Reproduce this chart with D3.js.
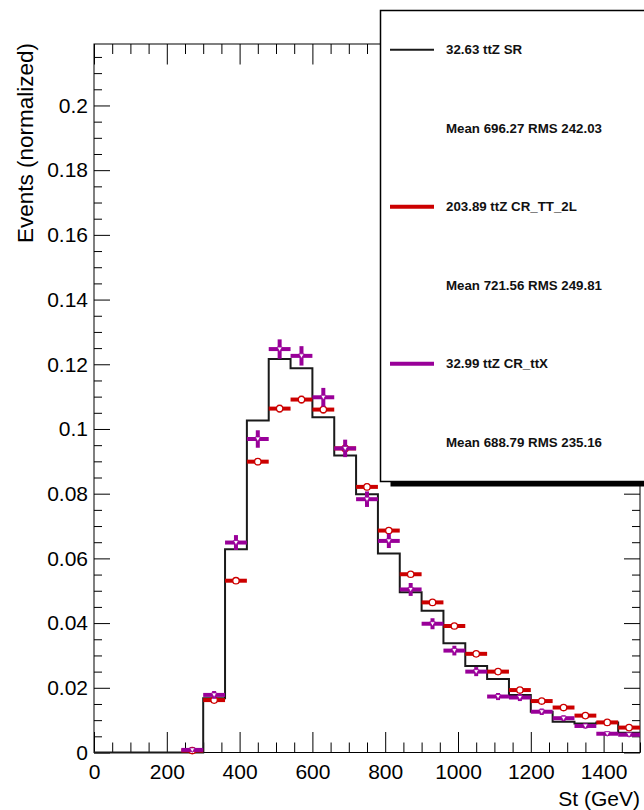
<!DOCTYPE html>
<html><head><meta charset="utf-8">
<script src="https://cdn.jsdelivr.net/npm/d3@7/dist/d3.min.js"></script>
<style>body{margin:0;background:#fff;overflow:hidden}svg{display:block}</style>
</head><body>
<script>
// ---- data ----
const binEdges = [0,60,120,180,240,300,360,420,480,540,600,660,720,780,840,900,960,1020,1080,1140,1200,1260,1320,1380,1440,1500];
const srValues = [0,0,0,0,0,0.0168,0.0628,0.1026,0.1216,0.1188,0.1036,0.0918,0.0798,0.0615,0.0495,0.0438,0.0338,0.0267,0.0227,0.0178,0.0126,0.0095,0.0090,0.0093,0.0061];
const ttValues = [0,0,0,0,0.0006,0.0162,0.0531,0.0899,0.1063,0.1091,0.1060,0.0940,0.0821,0.0686,0.0551,0.0464,0.0391,0.0305,0.0250,0.0193,0.0159,0.0139,0.0114,0.0093,0.0077];
const ttErrors = [0,0,0,0,0.0001,0.0005,0.0009,0.0011,0.0012,0.0012,0.0012,0.0011,0.0010,0.0009,0.0008,0.0007,0.0007,0.0006,0.0005,0.0005,0.0004,0.0004,0.0004,0.0003,0.0003];
const ttxValues = [0,0,0,0,0.0008,0.0178,0.0649,0.0969,0.1247,0.1226,0.1098,0.0940,0.0783,0.0654,0.0504,0.0398,0.0315,0.0250,0.0173,0.0170,0.0126,0.0106,0.0082,0.0058,0.0055];
const ttxErrors = [0,0,0,0,0.0003,0.0012,0.0023,0.0027,0.0030,0.0030,0.0029,0.0027,0.0024,0.0022,0.0020,0.0017,0.0015,0.0014,0.0011,0.0011,0.0010,0.0009,0.0008,0.0007,0.0006];
const xTicks = [0,200,400,600,800,1000,1200,1400];
const yTicks = [0,0.02,0.04,0.06,0.08,0.1,0.12,0.14,0.16,0.18,0.2];
const legendLabels = ["32.63 ttZ SR","Mean 696.27 RMS 242.03","203.89 ttZ CR_TT_2L","Mean 721.56 RMS 249.81","32.99 ttZ CR_ttX","Mean 688.79 RMS 235.16"];
const xTitle = "St (GeV)";
const yTitle = "Events (normalized)";

// ---- layout ----
const W = 644, H = 810;
const L = 94, R = 640, T = 44, B = 752.5;
const FONT = "'Liberation Sans', Arial, Helvetica, sans-serif";
const RED = "#cc0000", PURPLE = "#990099";

const svg = d3.select("body").append("svg").attr("width", W).attr("height", H);
const x = d3.scaleLinear().domain([0, 1500]).range([L, R]);
const y = d3.scaleLinear().domain([0, 0.219]).range([B, T]);

const xMinor = d3.range(0, 1500.1, 50).filter(v => xTicks.indexOf(v) < 0);
const yMinor = d3.range(0, 0.2191, 0.005).map(v => +v.toFixed(3)).filter(v => !yTicks.some(t => Math.abs(t - v) < 1e-9));

function styleAxis(g) {
  g.select(".domain").remove();
  g.selectAll(".tick line").attr("stroke", "#000").attr("stroke-width", 1);
  g.selectAll("text").attr("font-family", FONT).attr("font-size", 21).attr("fill", "#000");
}
// bottom axis (labels)
svg.append("g").attr("transform", `translate(0,${B})`)
  .call(d3.axisBottom(x).tickValues(xTicks).tickSize(-20.5).tickPadding(12).tickFormat(d3.format("d")))
  .call(styleAxis);
svg.append("g").attr("transform", `translate(0,${B})`)
  .call(d3.axisBottom(x).tickValues(xMinor).tickSize(-10).tickFormat(""))
  .call(styleAxis);
// top axis
svg.append("g").attr("transform", `translate(0,${T})`)
  .call(d3.axisTop(x).tickValues(xTicks).tickSize(-20.5).tickFormat(""))
  .call(styleAxis);
svg.append("g").attr("transform", `translate(0,${T})`)
  .call(d3.axisTop(x).tickValues(xMinor).tickSize(-10).tickFormat(""))
  .call(styleAxis);
// left axis
svg.append("g").attr("transform", `translate(${L},0)`)
  .call(d3.axisLeft(y).tickValues(yTicks).tickSize(-16).tickPadding(6).tickFormat(d3.format("~g")))
  .call(styleAxis);
svg.append("g").attr("transform", `translate(${L},0)`)
  .call(d3.axisLeft(y).tickValues(yMinor).tickSize(-8).tickFormat(""))
  .call(styleAxis);
// right axis
svg.append("g").attr("transform", `translate(${R},0)`)
  .call(d3.axisRight(y).tickValues(yTicks).tickSize(-16).tickFormat(""))
  .call(styleAxis);
svg.append("g").attr("transform", `translate(${R},0)`)
  .call(d3.axisRight(y).tickValues(yMinor).tickSize(-8).tickFormat(""))
  .call(styleAxis);

// frame
svg.append("rect").attr("x", L).attr("y", T).attr("width", R - L).attr("height", B - T)
  .attr("fill", "none").attr("stroke", "#000").attr("stroke-width", 1);

// SR histogram (step line)
const stepPts = srValues.map((v, i) => [binEdges[i], v]);
stepPts.push([binEdges[binEdges.length - 1], srValues[srValues.length - 1]]);
svg.append("path")
  .attr("d", d3.line().x(d => x(d[0])).y(d => y(d[1])).curve(d3.curveStepAfter)(stepPts))
  .attr("fill", "none").attr("stroke", "#1a1a1a").attr("stroke-width", 2);

function drawPoints(vals, errs, color, marker) {
  const g = svg.append("g");
  vals.forEach((v, i) => {
    if (v <= 0) return;
    const x0 = x(binEdges[i]), x1 = x(binEdges[i + 1]), xc = (x0 + x1) / 2;
    const yc = y(v);
    g.append("line").attr("x1", x0).attr("x2", x1).attr("y1", yc).attr("y2", yc)
      .attr("stroke", color).attr("stroke-width", 4);
    g.append("line").attr("x1", xc).attr("x2", xc).attr("y1", y(v - errs[i])).attr("y2", y(v + errs[i]))
      .attr("stroke", color).attr("stroke-width", 4);
    if (marker === "circle") {
      g.append("circle").attr("cx", xc).attr("cy", yc).attr("r", 3.2)
        .attr("fill", "#fff").attr("stroke", color).attr("stroke-width", 1.3);
    } else {
      g.append("path").attr("transform", `translate(${xc},${yc})`)
        .attr("d", "M-2.6,-2 L2.6,-2 L0,2.6 Z")
        .attr("fill", "#fff").attr("stroke", color).attr("stroke-width", 0.8);
    }
  });
}
drawPoints(ttValues, ttErrors, RED, "circle");
drawPoints(ttxValues, ttxErrors, PURPLE, "tri");

// axis titles
svg.append("text").attr("x", R).attr("y", 806).attr("text-anchor", "end")
  .attr("font-family", FONT).attr("font-size", 21).text(xTitle);
svg.append("text").attr("transform", `translate(33,${T - 1}) rotate(-90)`).attr("text-anchor", "end")
  .attr("font-family", FONT).attr("font-size", 22.5).text(yTitle);

// legend
const lg = svg.append("g");
lg.append("rect").attr("x", 390.5).attr("y", 481).attr("width", 300).attr("height", 5.5).attr("fill", "#000");
lg.append("rect").attr("x", 380.5).attr("y", 10.5).attr("width", 300).attr("height", 471)
  .attr("fill", "#fff").attr("stroke", "#000").attr("stroke-width", 1.5);
const rowH = 471 / 6;
const lineStyles = [["#1a1a1a", 2], null, [RED, 4], null, [PURPLE, 4], null];
legendLabels.forEach((t, i) => {
  const yc = 10.5 + rowH * (i + 0.5);
  if (lineStyles[i]) {
    lg.append("line").attr("x1", 390).attr("x2", 434).attr("y1", yc).attr("y2", yc)
      .attr("stroke", lineStyles[i][0]).attr("stroke-width", lineStyles[i][1]);
  }
  lg.append("text").attr("x", 446).attr("y", yc).attr("dy", "0.35em")
    .attr("font-family", FONT).attr("font-weight", "bold").attr("font-size", 13.3).attr("fill", "#111").text(t);
});
</script>
</body></html>
